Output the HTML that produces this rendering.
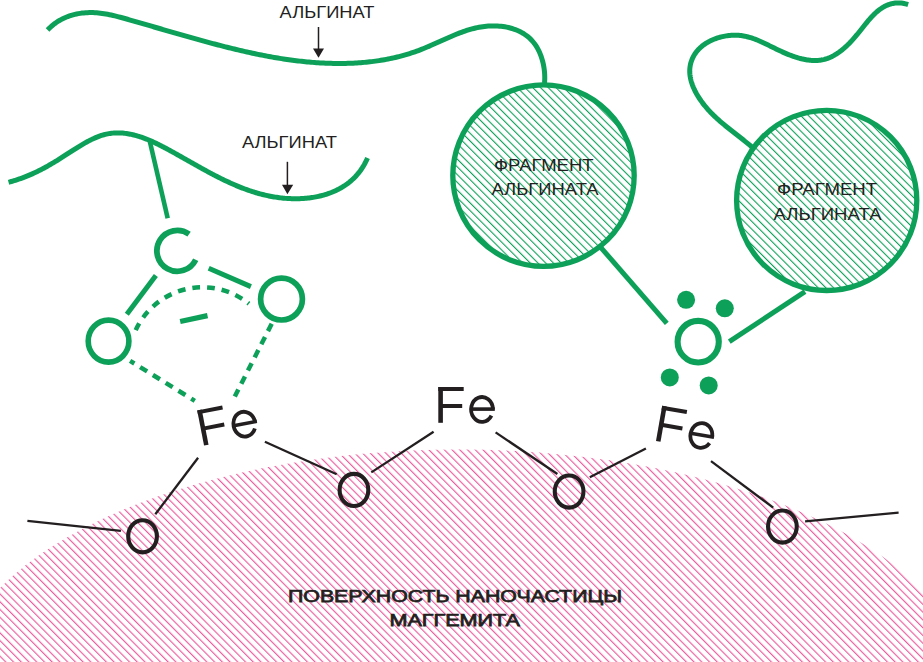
<!DOCTYPE html>
<html><head><meta charset="utf-8"><style>
html,body{margin:0;padding:0;background:#fff;width:923px;height:662px;overflow:hidden}
svg{display:block}
text{font-family:"Liberation Sans", sans-serif}
</style></head><body>
<svg width="923" height="662" viewBox="0 0 923 662">
<defs>
<pattern id="hp" patternUnits="userSpaceOnUse" width="5.4836" height="20" patternTransform="rotate(-45) translate(0.557,0)"><rect x="0" y="0" width="1.15" height="20" fill="#eb5d9e"/></pattern>
<pattern id="hg" patternUnits="userSpaceOnUse" width="5.473" height="20" patternTransform="rotate(-45) translate(2.30,0)"><rect x="0" y="0" width="1.1" height="20" fill="#0ca059"/></pattern>
</defs>
<ellipse cx="461.2" cy="690.3" rx="508.3" ry="240.8" transform="rotate(0.16 461.2 690.3)" fill="url(#hp)"/>
<path d="M47.58,30.03 L48.94,28.61 L50.34,27.26 L51.78,25.98 L53.25,24.76 L54.75,23.60 L56.28,22.51 L57.85,21.48 L59.44,20.51 L61.06,19.60 L62.70,18.75 L64.37,17.96 L66.06,17.23 L67.77,16.55 L69.50,15.93 L71.25,15.37 L73.01,14.86 L74.79,14.40 L76.58,14.00 L78.38,13.65 L80.19,13.35 L82.01,13.10 L83.84,12.90 L85.67,12.75 L87.50,12.65 L89.34,12.59 L91.18,12.59 L93.01,12.62 L94.85,12.70 L96.68,12.83 L98.51,12.99 L100.34,13.19 L102.17,13.43 L103.99,13.69 L105.81,14.00 L107.64,14.33 L109.45,14.68 L111.27,15.06 L113.09,15.47 L114.90,15.89 L116.71,16.34 L118.52,16.80 L120.32,17.27 L122.12,17.76 L123.93,18.26 L125.72,18.76 L127.52,19.27 L129.31,19.79 L131.10,20.30 L132.89,20.82 L134.67,21.34 L136.45,21.85 L138.23,22.37 L140.01,22.88 L141.79,23.39 L143.56,23.91 L145.33,24.42 L147.10,24.93 L148.87,25.44 L150.64,25.96 L152.41,26.47 L154.18,26.98 L155.94,27.49 L157.71,28.00 L159.47,28.51 L161.24,29.02 L163.00,29.53 L164.77,30.04 L166.54,30.55 L168.30,31.06 L170.07,31.57 L171.84,32.08 L173.61,32.59 L175.38,33.09 L177.15,33.60 L178.92,34.11 L180.70,34.62 L182.47,35.13 L184.25,35.64 L186.02,36.14 L187.80,36.65 L189.58,37.15 L191.36,37.65 L193.14,38.15 L194.93,38.65 L196.71,39.15 L198.49,39.65 L200.28,40.14 L202.06,40.64 L203.85,41.13 L205.64,41.62 L207.43,42.10 L209.22,42.59 L211.01,43.07 L212.80,43.55 L214.60,44.03 L216.39,44.50 L218.19,44.97 L219.98,45.44 L221.78,45.90 L223.58,46.36 L225.38,46.82 L227.17,47.27 L228.98,47.72 L230.78,48.17 L232.58,48.61 L234.38,49.05 L236.19,49.49 L237.99,49.92 L239.80,50.34 L241.61,50.76 L243.41,51.18 L245.22,51.59 L247.03,52.00 L248.84,52.40 L250.65,52.80 L252.47,53.19 L254.28,53.57 L256.09,53.95 L257.91,54.33 L259.72,54.70 L261.54,55.06 L263.36,55.42 L265.17,55.77 L266.99,56.11 L268.81,56.45 L270.63,56.79 L272.45,57.11 L274.28,57.43 L276.10,57.74 L277.92,58.05 L279.75,58.35 L281.57,58.64 L283.40,58.92 L285.22,59.20 L287.05,59.47 L288.88,59.73 L290.71,59.98 L292.54,60.23 L294.37,60.47 L296.20,60.70 L298.03,60.92 L299.86,61.13 L301.70,61.33 L303.53,61.53 L305.36,61.72 L307.20,61.90 L309.03,62.07 L310.87,62.23 L312.71,62.38 L314.55,62.52 L316.39,62.65 L318.22,62.78 L320.06,62.89 L321.90,62.99 L323.75,63.09 L325.59,63.17 L327.43,63.25 L329.27,63.31 L331.12,63.36 L332.96,63.41 L334.81,63.44 L336.65,63.46 L338.50,63.47 L340.34,63.47 L342.19,63.46 L344.04,63.43 L345.89,63.40 L347.73,63.35 L349.58,63.30 L351.43,63.23 L353.28,63.14 L355.12,63.05 L356.97,62.94 L358.81,62.82 L360.66,62.69 L362.50,62.54 L364.34,62.38 L366.18,62.21 L368.02,62.02 L369.86,61.82 L371.70,61.61 L373.53,61.38 L375.37,61.14 L377.20,60.88 L379.03,60.61 L380.85,60.32 L382.68,60.02 L384.50,59.70 L386.32,59.37 L388.13,59.02 L389.95,58.66 L391.76,58.28 L393.57,57.88 L395.37,57.47 L397.17,57.04 L398.97,56.59 L400.76,56.13 L402.55,55.65 L404.33,55.15 L406.12,54.64 L407.89,54.10 L409.67,53.55 L411.43,52.99 L413.20,52.40 L414.96,51.80 L416.71,51.17 L418.46,50.53 L420.20,49.87 L421.94,49.19 L423.68,48.50 L425.41,47.79 L427.13,47.06 L428.86,46.33 L430.58,45.58 L432.29,44.82 L434.01,44.06 L435.72,43.30 L437.43,42.53 L439.14,41.75 L440.85,40.98 L442.56,40.21 L444.27,39.44 L445.98,38.68 L447.70,37.92 L449.41,37.17 L451.12,36.43 L452.84,35.70 L454.56,34.99 L456.28,34.29 L458.01,33.61 L459.74,32.94 L461.47,32.29 L463.21,31.67 L464.95,31.07 L466.70,30.49 L468.46,29.94 L470.22,29.42 L471.99,28.92 L473.76,28.46 L475.54,28.03 L477.33,27.64 L479.13,27.28 L480.94,26.96 L482.75,26.68 L484.58,26.44 L486.42,26.24 L488.26,26.09 L490.11,25.98 L491.96,25.92 L493.82,25.91 L495.67,25.94 L497.52,26.02 L499.37,26.14 L501.21,26.32 L503.03,26.55 L504.85,26.83 L506.65,27.16 L508.43,27.54 L510.20,27.98 L511.94,28.47 L513.66,29.02 L515.35,29.62 L517.02,30.28 L518.65,31.00 L520.26,31.77 L521.82,32.61 L523.35,33.50 L524.84,34.46 L526.29,35.47 L527.69,36.55 L529.05,37.69 L530.35,38.90 L531.61,40.17 L532.81,41.51 L533.96,42.91 L535.04,44.38 L536.08,45.91 L537.05,47.49 L537.96,49.13 L538.82,50.82 L539.62,52.56 L540.36,54.33 L541.05,56.14 L541.67,57.98 L542.24,59.84 L542.75,61.73 L543.21,63.63 L543.60,65.55 L543.94,67.48 L544.21,69.42 L544.44,71.35 L544.60,73.28 L544.70,75.20 L544.75,77.11 L544.74,79.00 L544.67,80.87 L544.54,82.72 L544.35,84.53 L544.11,86.31" fill="none" stroke="#0ca059" stroke-width="5"/>
<path d="M8.57,182.30 L9.97,181.91 L11.36,181.52 L12.73,181.11 L14.08,180.70 L15.42,180.28 L16.74,179.85 L18.05,179.42 L19.35,178.98 L20.63,178.53 L21.90,178.07 L23.15,177.60 L24.40,177.13 L25.63,176.65 L26.86,176.16 L28.07,175.67 L29.28,175.16 L30.47,174.65 L31.66,174.13 L32.83,173.61 L34.00,173.07 L35.17,172.53 L36.32,171.98 L37.47,171.42 L38.62,170.86 L39.76,170.29 L40.90,169.71 L42.03,169.12 L43.15,168.52 L44.28,167.92 L45.40,167.31 L46.52,166.69 L47.64,166.06 L48.76,165.42 L49.88,164.78 L50.99,164.13 L52.11,163.47 L53.23,162.80 L54.35,162.13 L55.48,161.45 L56.60,160.76 L57.73,160.06 L58.86,159.35 L60.00,158.64 L61.14,157.92 L62.29,157.19 L63.44,156.45 L64.60,155.71 L65.76,154.95 L66.93,154.19 L68.11,153.43 L69.29,152.66 L70.48,151.89 L71.67,151.12 L72.87,150.35 L74.08,149.57 L75.29,148.81 L76.50,148.04 L77.72,147.28 L78.94,146.53 L80.17,145.78 L81.40,145.05 L82.63,144.32 L83.87,143.60 L85.10,142.90 L86.35,142.21 L87.59,141.54 L88.84,140.88 L90.09,140.24 L91.34,139.62 L92.60,139.02 L93.85,138.44 L95.11,137.89 L96.36,137.35 L97.62,136.85 L98.88,136.37 L100.14,135.91 L101.40,135.49 L102.66,135.10 L103.92,134.74 L105.18,134.41 L106.44,134.11 L107.70,133.85 L108.96,133.62 L110.22,133.43 L111.47,133.26 L112.73,133.13 L113.98,133.02 L115.24,132.95 L116.49,132.90 L117.75,132.89 L119.00,132.90 L120.25,132.94 L121.50,133.00 L122.75,133.09 L124.00,133.21 L125.25,133.36 L126.50,133.52 L127.75,133.71 L128.99,133.93 L130.24,134.17 L131.48,134.42 L132.73,134.71 L133.97,135.01 L135.21,135.33 L136.45,135.67 L137.69,136.03 L138.93,136.41 L140.17,136.81 L141.41,137.23 L142.64,137.66 L143.88,138.11 L145.11,138.58 L146.34,139.06 L147.57,139.55 L148.80,140.06 L150.03,140.58 L151.26,141.12 L152.48,141.66 L153.71,142.22 L154.93,142.79 L156.15,143.37 L157.38,143.96 L158.60,144.56 L159.81,145.17 L161.03,145.79 L162.25,146.41 L163.46,147.04 L164.67,147.68 L165.89,148.32 L167.10,148.97 L168.30,149.62 L169.51,150.28 L170.72,150.94 L171.92,151.61 L173.12,152.27 L174.32,152.94 L175.52,153.61 L176.72,154.28 L177.92,154.95 L179.11,155.62 L180.31,156.29 L181.50,156.97 L182.69,157.64 L183.88,158.32 L185.07,158.99 L186.26,159.66 L187.45,160.34 L188.63,161.01 L189.82,161.68 L191.01,162.35 L192.19,163.02 L193.38,163.69 L194.56,164.36 L195.75,165.02 L196.93,165.69 L198.11,166.35 L199.30,167.01 L200.48,167.67 L201.66,168.33 L202.85,168.98 L204.03,169.63 L205.21,170.28 L206.40,170.92 L207.58,171.57 L208.77,172.20 L209.95,172.84 L211.14,173.47 L212.33,174.10 L213.52,174.72 L214.70,175.34 L215.89,175.96 L217.08,176.57 L218.27,177.17 L219.47,177.77 L220.66,178.37 L221.86,178.96 L223.05,179.55 L224.25,180.13 L225.45,180.70 L226.65,181.27 L227.85,181.83 L229.06,182.39 L230.26,182.94 L231.47,183.48 L232.68,184.02 L233.89,184.55 L235.10,185.07 L236.32,185.59 L237.54,186.10 L238.76,186.60 L239.98,187.09 L241.20,187.58 L242.43,188.06 L243.66,188.53 L244.89,188.99 L246.13,189.44 L247.36,189.89 L248.61,190.32 L249.85,190.75 L251.10,191.17 L252.34,191.57 L253.60,191.97 L254.85,192.36 L256.11,192.74 L257.37,193.11 L258.64,193.47 L259.91,193.82 L261.18,194.16 L262.46,194.48 L263.74,194.80 L265.02,195.11 L266.31,195.40 L267.60,195.68 L268.90,195.96 L270.20,196.22 L271.50,196.47 L272.81,196.70 L274.12,196.93 L275.44,197.14 L276.76,197.34 L278.08,197.53 L279.41,197.70 L280.75,197.86 L282.08,198.01 L283.43,198.14 L284.77,198.27 L286.12,198.37 L287.48,198.47 L288.83,198.55 L290.19,198.61 L291.55,198.66 L292.91,198.70 L294.27,198.72 L295.63,198.73 L296.99,198.72 L298.35,198.69 L299.71,198.65 L301.07,198.60 L302.43,198.52 L303.79,198.44 L305.14,198.33 L306.50,198.21 L307.85,198.07 L309.19,197.92 L310.54,197.75 L311.88,197.56 L313.21,197.35 L314.54,197.13 L315.87,196.89 L317.19,196.63 L318.50,196.35 L319.81,196.05 L321.11,195.74 L322.41,195.40 L323.69,195.05 L324.97,194.68 L326.25,194.29 L327.51,193.88 L328.77,193.45 L330.01,193.00 L331.25,192.53 L332.48,192.03 L333.69,191.52 L334.90,190.99 L336.09,190.44 L337.28,189.86 L338.45,189.27 L339.61,188.65 L340.76,188.01 L341.89,187.35 L343.01,186.67 L344.12,185.97 L345.21,185.24 L346.29,184.49 L347.36,183.72 L348.41,182.92 L349.44,182.11 L350.46,181.26 L351.47,180.40 L352.45,179.51 L353.42,178.60 L354.37,177.66 L355.31,176.70 L356.22,175.72 L357.12,174.71 L358.00,173.67 L358.86,172.61 L359.70,171.53 L360.52,170.42 L361.32,169.28 L362.10,168.12 L362.86,166.93 L363.59,165.72 L364.31,164.48 L365.00,163.21 L365.67,161.92 L366.32,160.60 L366.95,159.25 L367.55,157.88" fill="none" stroke="#0ca059" stroke-width="5"/>
<path d="M751.94,147.04 L751.02,146.25 L750.09,145.46 L749.16,144.68 L748.23,143.90 L747.29,143.12 L746.34,142.35 L745.40,141.59 L744.45,140.82 L743.50,140.07 L742.54,139.31 L741.59,138.55 L740.63,137.80 L739.67,137.05 L738.72,136.30 L737.76,135.55 L736.79,134.80 L735.83,134.05 L734.87,133.30 L733.91,132.55 L732.95,131.80 L732.00,131.05 L731.04,130.30 L730.08,129.54 L729.13,128.78 L728.18,128.03 L727.23,127.26 L726.29,126.50 L725.34,125.73 L724.40,124.95 L723.47,124.18 L722.54,123.39 L721.61,122.61 L720.69,121.82 L719.77,121.02 L718.86,120.21 L717.95,119.40 L717.05,118.59 L716.15,117.76 L715.26,116.93 L714.38,116.09 L713.51,115.24 L712.64,114.39 L711.78,113.53 L710.92,112.65 L710.08,111.77 L709.24,110.88 L708.41,109.98 L707.60,109.06 L706.79,108.14 L705.99,107.21 L705.20,106.26 L704.42,105.30 L703.65,104.33 L702.89,103.35 L702.14,102.35 L701.41,101.35 L700.68,100.32 L699.97,99.29 L699.27,98.24 L698.59,97.18 L697.92,96.11 L697.27,95.02 L696.63,93.93 L696.02,92.83 L695.43,91.71 L694.86,90.59 L694.31,89.46 L693.79,88.32 L693.29,87.18 L692.82,86.02 L692.38,84.87 L691.97,83.70 L691.59,82.54 L691.24,81.37 L690.92,80.19 L690.64,79.01 L690.40,77.83 L690.19,76.65 L690.01,75.47 L689.88,74.28 L689.79,73.10 L689.74,71.92 L689.73,70.74 L689.77,69.56 L689.85,68.38 L689.98,67.21 L690.15,66.04 L690.37,64.87 L690.64,63.72 L690.94,62.57 L691.30,61.44 L691.69,60.32 L692.12,59.22 L692.60,58.13 L693.12,57.06 L693.67,56.01 L694.27,54.98 L694.90,53.98 L695.58,53.00 L696.29,52.04 L697.03,51.11 L697.81,50.21 L698.62,49.33 L699.47,48.47 L700.34,47.64 L701.25,46.84 L702.18,46.06 L703.14,45.31 L704.13,44.58 L705.14,43.88 L706.17,43.21 L707.23,42.56 L708.31,41.94 L709.41,41.35 L710.52,40.78 L711.66,40.24 L712.81,39.72 L713.98,39.24 L715.16,38.78 L716.35,38.35 L717.56,37.94 L718.78,37.56 L720.00,37.21 L721.24,36.89 L722.48,36.60 L723.73,36.33 L724.98,36.09 L726.24,35.88 L727.49,35.70 L728.75,35.55 L730.01,35.42 L731.27,35.33 L732.52,35.26 L733.78,35.22 L735.02,35.21 L736.26,35.23 L737.50,35.28 L738.72,35.36 L739.94,35.47 L741.14,35.60 L742.34,35.77 L743.53,35.96 L744.71,36.18 L745.87,36.42 L747.04,36.69 L748.19,36.98 L749.34,37.30 L750.48,37.63 L751.61,37.99 L752.74,38.36 L753.86,38.76 L754.98,39.17 L756.10,39.59 L757.21,40.04 L758.32,40.49 L759.42,40.96 L760.53,41.44 L761.63,41.94 L762.73,42.44 L763.82,42.95 L764.92,43.47 L766.02,44.00 L767.12,44.53 L768.22,45.07 L769.32,45.62 L770.42,46.16 L771.53,46.71 L772.63,47.26 L773.74,47.81 L774.86,48.36 L775.98,48.91 L777.10,49.45 L778.23,49.99 L779.36,50.53 L780.50,51.06 L781.64,51.58 L782.79,52.10 L783.94,52.61 L785.09,53.11 L786.25,53.60 L787.40,54.09 L788.57,54.56 L789.73,55.02 L790.89,55.46 L792.06,55.89 L793.23,56.31 L794.40,56.72 L795.57,57.10 L796.75,57.48 L797.92,57.83 L799.09,58.17 L800.26,58.48 L801.44,58.78 L802.61,59.06 L803.78,59.31 L804.95,59.54 L806.12,59.75 L807.29,59.94 L808.45,60.10 L809.62,60.24 L810.78,60.35 L811.94,60.43 L813.09,60.49 L814.24,60.51 L815.39,60.51 L816.54,60.48 L817.68,60.41 L818.82,60.32 L819.95,60.19 L821.08,60.03 L822.20,59.83 L823.32,59.60 L824.43,59.34 L825.54,59.03 L826.64,58.69 L827.73,58.31 L828.82,57.90 L829.90,57.45 L830.98,56.97 L832.05,56.45 L833.11,55.90 L834.16,55.32 L835.20,54.71 L836.24,54.07 L837.27,53.41 L838.29,52.72 L839.31,52.00 L840.31,51.25 L841.31,50.49 L842.30,49.70 L843.28,48.89 L844.25,48.06 L845.21,47.22 L846.16,46.35 L847.10,45.47 L848.03,44.57 L848.95,43.66 L849.86,42.73 L850.76,41.79 L851.65,40.84 L852.53,39.88 L853.40,38.92 L854.26,37.94 L855.11,36.96 L855.94,35.97 L856.77,34.97 L857.59,33.98 L858.41,32.98 L859.21,31.98 L860.01,30.97 L860.81,29.97 L861.60,28.97 L862.39,27.98 L863.18,26.98 L863.96,26.00 L864.75,25.01 L865.53,24.04 L866.31,23.07 L867.10,22.12 L867.89,21.17 L868.68,20.23 L869.48,19.31 L870.28,18.40 L871.08,17.50 L871.89,16.62 L872.71,15.76 L873.54,14.92 L874.37,14.09 L875.22,13.28 L876.07,12.50 L876.94,11.73 L877.82,10.99 L878.71,10.28 L879.61,9.59 L880.53,8.92 L881.46,8.28 L882.41,7.68 L883.38,7.10 L884.36,6.55 L885.36,6.03 L886.38,5.55 L887.42,5.10 L888.48,4.68 L889.56,4.30 L890.66,3.97 L891.78,3.67 L892.91,3.42 L894.07,3.22 L895.25,3.06 L896.45,2.95 L897.67,2.90 L898.91,2.90 L900.17,2.96 L901.45,3.08 L902.75,3.26 L904.07,3.51 L905.40,3.81 L906.76,4.19 L908.14,4.64" fill="none" stroke="#0ca059" stroke-width="5"/>
<circle cx="543.5" cy="175.6" r="90.7" fill="url(#hg)" stroke="#0ca059" stroke-width="5.3"/>
<circle cx="826.7" cy="200.4" r="90.1" fill="url(#hg)" stroke="#0ca059" stroke-width="5.3"/>
<line x1="149.5" y1="140.0" x2="167.7" y2="218.2" stroke="#0ca059" stroke-width="4.6" />
<line x1="155.9" y1="275.5" x2="126.8" y2="314.3" stroke="#0ca059" stroke-width="5.0" />
<line x1="208.7" y1="268.3" x2="250.9" y2="286.6" stroke="#0ca059" stroke-width="5.0" />
<line x1="180.2" y1="321.5" x2="207.5" y2="315.7" stroke="#0ca059" stroke-width="5.3" />
<line x1="600.7" y1="247.3" x2="666.8" y2="323.3" stroke="#0ca059" stroke-width="5.0" />
<line x1="805.0" y1="291.6" x2="729.3" y2="341.7" stroke="#0ca059" stroke-width="5.0" />
<path d="M189.08,234.10 A20.45,20.45 0 1 0 195.73,259.81" fill="none" stroke="#0ca059" stroke-width="5.8"/>
<ellipse cx="108.55" cy="341.1" rx="20.35" ry="21" fill="none" stroke="#0ca059" stroke-width="5.6"/>
<ellipse cx="281.5" cy="299.1" rx="20.9" ry="20.9" fill="none" stroke="#0ca059" stroke-width="5.7"/>
<ellipse cx="698.2" cy="341.7" rx="20.6" ry="20.8" fill="none" stroke="#0ca059" stroke-width="6.1"/>
<circle cx="686.1" cy="299.8" r="9" fill="#0ca059"/>
<circle cx="724.8" cy="308.3" r="9" fill="#0ca059"/>
<circle cx="669.8" cy="377.4" r="9" fill="#0ca059"/>
<circle cx="708.7" cy="385.4" r="9" fill="#0ca059"/>
<path d="M135.73,330.14 A73.6,73.6 0 0 1 248.92,303.70" fill="none" stroke="#0ca059" stroke-width="4.5" stroke-dasharray="7.7 7.0"/>
<line x1="130.1" y1="360.9" x2="194.8" y2="400.8" stroke="#0ca059" stroke-width="4.5" stroke-dasharray="8.2 6.8" stroke-dashoffset="3.2"/>
<line x1="271.7" y1="323.8" x2="234.8" y2="396.5" stroke="#0ca059" stroke-width="4.5" stroke-dasharray="8.2 6.55"/>
<line x1="27.4" y1="520.8" x2="120.9" y2="530.8" stroke="#231f20" stroke-width="2.3" />
<line x1="155.3" y1="514.3" x2="198.1" y2="457.7" stroke="#231f20" stroke-width="2.3" />
<line x1="264.9" y1="441.8" x2="336.7" y2="474.3" stroke="#231f20" stroke-width="2.3" />
<line x1="371.3" y1="472.4" x2="433.6" y2="431.8" stroke="#231f20" stroke-width="2.3" />
<line x1="495.6" y1="432.4" x2="557.4" y2="474.0" stroke="#231f20" stroke-width="2.3" />
<line x1="589.8" y1="477.2" x2="645.9" y2="448.6" stroke="#231f20" stroke-width="2.3" />
<line x1="711.0" y1="461.1" x2="773.2" y2="507.7" stroke="#231f20" stroke-width="2.3" />
<line x1="805.1" y1="521.4" x2="898.6" y2="512.7" stroke="#231f20" stroke-width="2.3" />
<ellipse cx="142.55" cy="536.30" rx="14.35" ry="16.05" fill="none" stroke="#231f20" stroke-width="4.1"/>
<ellipse cx="353.95" cy="489.95" rx="14.35" ry="16.05" fill="none" stroke="#231f20" stroke-width="4.1"/>
<ellipse cx="569.10" cy="491.60" rx="14.35" ry="16.05" fill="none" stroke="#231f20" stroke-width="4.1"/>
<ellipse cx="782.40" cy="526.60" rx="14.35" ry="16.05" fill="none" stroke="#231f20" stroke-width="4.1"/>
<g transform="translate(197.2,410.4) rotate(-11.0)" stroke="#231f20" fill="none"><path d="M2.3,0 V35.8" stroke-width="4.6"/><path d="M0,2 H25.4" stroke-width="4"/><path d="M2.3,19 H23.9" stroke-width="4"/><path d="M54.60,22.50 A10.90,12.40 0 1 0 53.14,28.70" stroke-width="3.8"/><path d="M32.80,22.10 H56.50" stroke-width="3.6"/></g>
<g transform="translate(438.3,387.0) rotate(0.0)" stroke="#231f20" fill="none"><path d="M2.3,0 V35.8" stroke-width="4.6"/><path d="M0,2 H25.4" stroke-width="4"/><path d="M2.3,19 H23.9" stroke-width="4"/><path d="M54.60,22.50 A10.90,12.40 0 1 0 53.14,28.70" stroke-width="3.8"/><path d="M32.80,22.10 H56.50" stroke-width="3.6"/></g>
<g transform="translate(662.2,405.7) rotate(10.0)" stroke="#231f20" fill="none"><path d="M2.3,0 V35.8" stroke-width="4.6"/><path d="M0,2 H25.4" stroke-width="4"/><path d="M2.3,19 H23.9" stroke-width="4"/><path d="M54.60,22.50 A10.90,12.40 0 1 0 53.14,28.70" stroke-width="3.8"/><path d="M32.80,22.10 H56.50" stroke-width="3.6"/></g>
<line x1="318.5" y1="27.0" x2="318.5" y2="50.0" stroke="#231f20" stroke-width="1.5" />
<path d="M313,48.6 L324,48.6 L318.5,57.8 Z" fill="#231f20"/>
<line x1="287.4" y1="161.8" x2="287.4" y2="186.0" stroke="#231f20" stroke-width="1.5" />
<path d="M282,184.8 L293.2,184.8 L287.4,194.2 Z" fill="#231f20"/>
<g font-family="Liberation Sans, sans-serif">
<text x="279.6" y="18.0" textLength="94.9" lengthAdjust="spacingAndGlyphs" font-size="15.8" fill="#231f20">АЛЬГИНАТ</text>
<text x="241.9" y="148.0" textLength="95.1" lengthAdjust="spacingAndGlyphs" font-size="15.8" fill="#231f20">АЛЬГИНАТ</text>
<text x="494.0" y="171.0" textLength="99.6" lengthAdjust="spacingAndGlyphs" font-size="16.7" fill="#231f20">ФРАГМЕНТ</text>
<text x="491.4" y="195.0" textLength="107.2" lengthAdjust="spacingAndGlyphs" font-size="16.7" fill="#231f20">АЛЬГИНАТА</text>
<text x="777.0" y="195.0" textLength="100.2" lengthAdjust="spacingAndGlyphs" font-size="16.7" fill="#231f20">ФРАГМЕНТ</text>
<text x="773.5" y="220.0" textLength="108.1" lengthAdjust="spacingAndGlyphs" font-size="16.7" fill="#231f20">АЛЬГИНАТА</text>
<text x="288.0" y="601.8" textLength="334.1" lengthAdjust="spacingAndGlyphs" font-size="17.4" fill="#231f20" stroke="#231f20" stroke-width="0.75">ПОВЕРХНОСТЬ НАНОЧАСТИЦЫ</text>
<text x="389.4" y="625.8" textLength="130.6" lengthAdjust="spacingAndGlyphs" font-size="17.4" fill="#231f20" stroke="#231f20" stroke-width="0.75">МАГГЕМИТА</text>
</g>
</svg>
</body></html>
